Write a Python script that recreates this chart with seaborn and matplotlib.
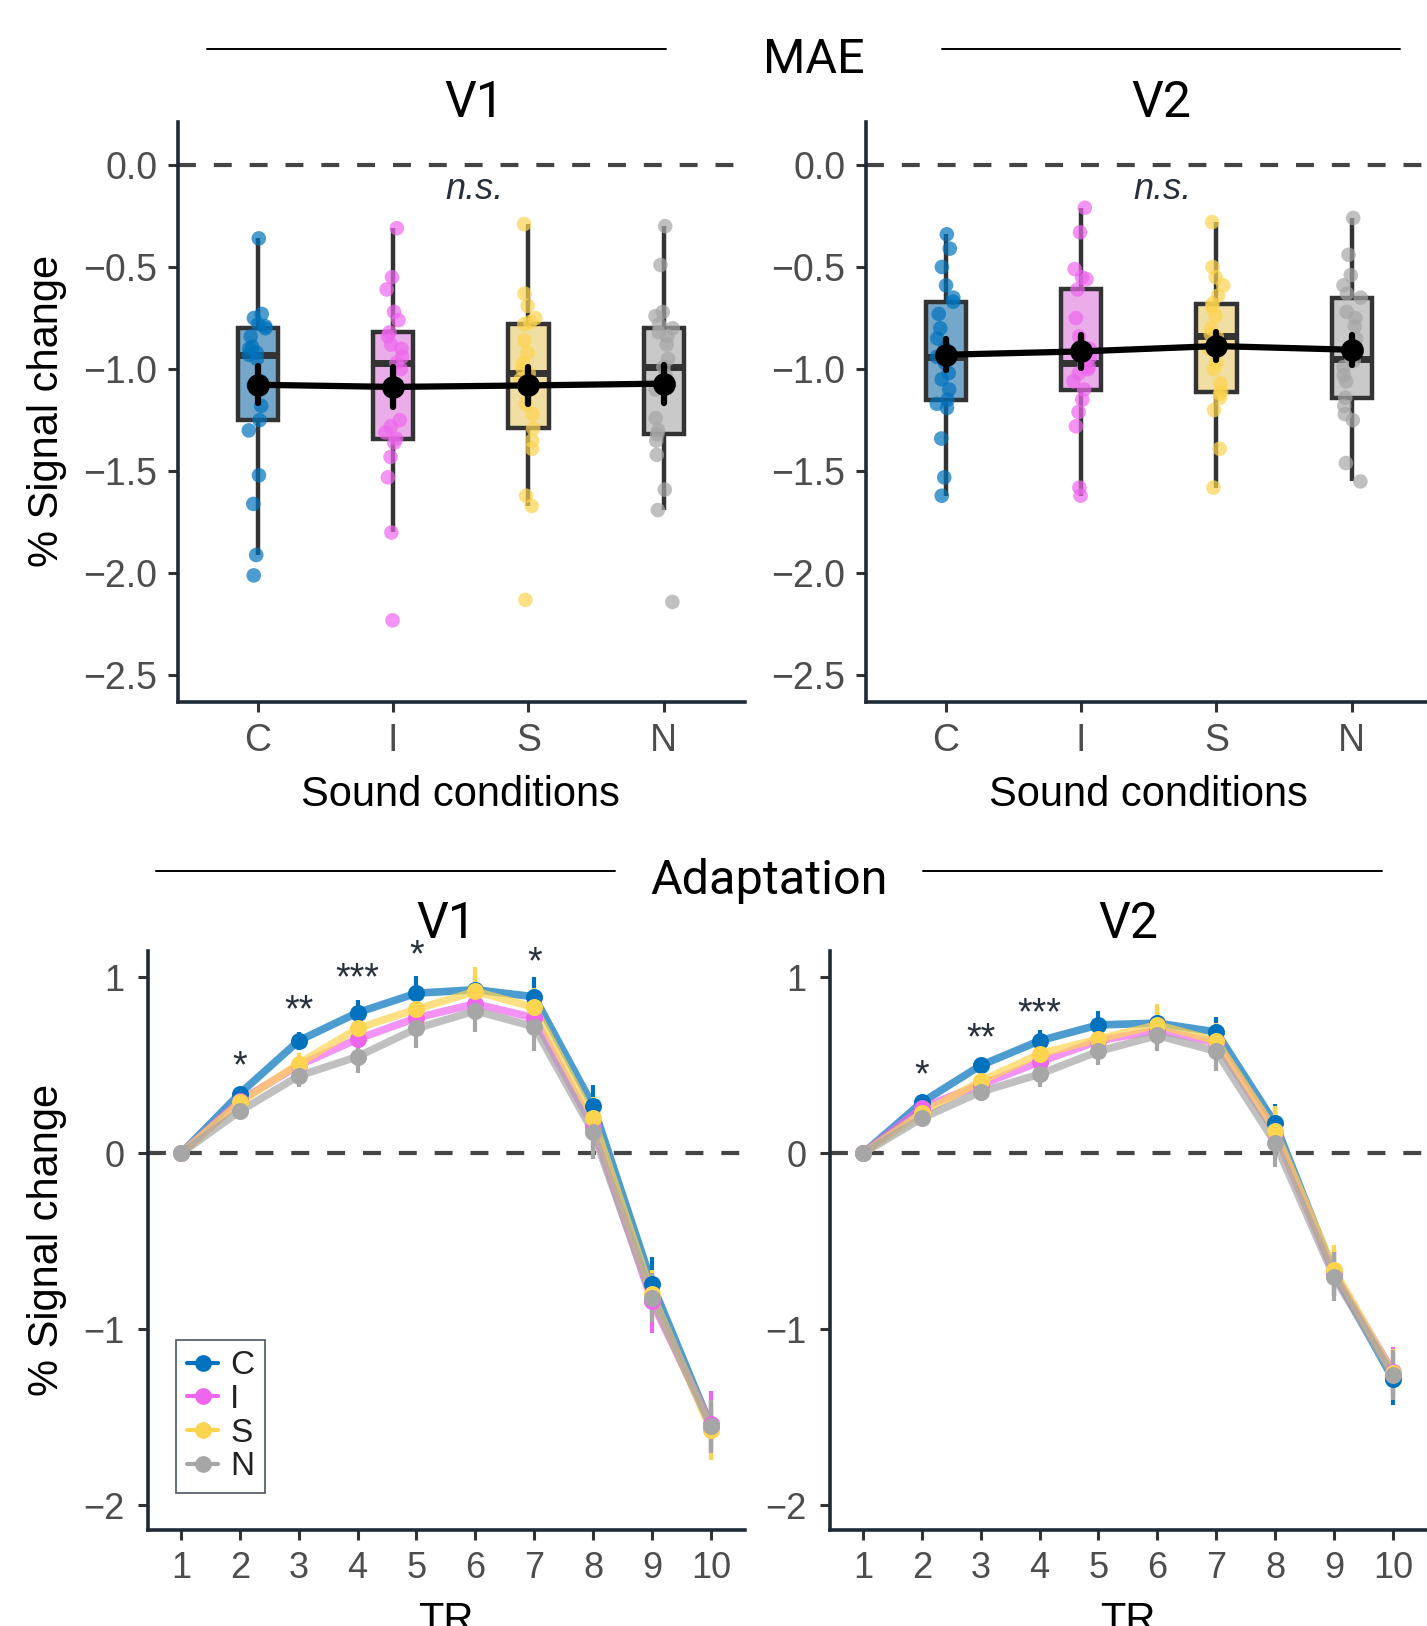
import numpy as np
import pandas as pd
import matplotlib
matplotlib.use("Agg")
import matplotlib.pyplot as plt
from matplotlib.lines import Line2D
from matplotlib.colors import to_rgba
import seaborn as sns

# ---------------- data ----------------
conditions = ["C", "I", "S", "N"]
colors = {"C": "#0072BD", "I": "#EE66EE", "S": "#FDD44F", "N": "#A6A6A6"}

# MAE: per-subject % signal change, V1
mae_v1_C = [-0.36, -0.73, -0.75, -0.78, -0.79, -0.80, -0.84, -0.89, -0.90, -0.92, -0.93,
            -0.95, -1.06, -1.08, -1.18, -1.25, -1.30, -1.52, -1.66, -1.91, -2.01]
mae_v1_I = [-0.31, -0.55, -0.61, -0.72, -0.76, -0.82, -0.84, -0.88, -0.90, -0.94, -0.97,
            -1.00, -1.25, -1.28, -1.31, -1.34, -1.36, -1.43, -1.53, -1.80, -2.23]
mae_v1_S = [-0.29, -0.63, -0.69, -0.75, -0.77, -0.78, -0.86, -0.92, -0.97, -1.00, -1.02,
            -1.05, -1.11, -1.17, -1.22, -1.29, -1.35, -1.39, -1.62, -1.67, -2.13]
mae_v1_N = [-0.30, -0.49, -0.72, -0.74, -0.78, -0.80, -0.82, -0.84, -0.88, -0.95, -0.99,
            -1.03, -1.10, -1.24, -1.30, -1.32, -1.35, -1.42, -1.59, -1.69, -2.14]
# MAE: V2
mae_v2_C = [-0.34, -0.41, -0.50, -0.59, -0.65, -0.67, -0.73, -0.80, -0.85, -0.90, -0.94,
            -0.97, -1.02, -1.05, -1.10, -1.15, -1.17, -1.19, -1.34, -1.53, -1.62]
mae_v2_I = [-0.21, -0.33, -0.51, -0.55, -0.56, -0.61, -0.75, -0.84, -0.90, -0.94, -0.97,
            -0.99, -1.00, -1.02, -1.06, -1.10, -1.15, -1.21, -1.28, -1.58, -1.62]
mae_v2_S = [-0.28, -0.50, -0.55, -0.59, -0.64, -0.68, -0.70, -0.74, -0.80, -0.83, -0.84,
            -0.90, -0.97, -1.00, -1.07, -1.11, -1.12, -1.14, -1.20, -1.39, -1.58]
mae_v2_N = [-0.26, -0.44, -0.54, -0.59, -0.63, -0.65, -0.72, -0.75, -0.79, -0.85, -0.95,
            -0.96, -0.99, -1.03, -1.06, -1.14, -1.18, -1.22, -1.25, -1.46, -1.55]

# Adaptation: time course (TR 1-10), group mean and SE
tr = [1, 2, 3, 4, 5, 6, 7, 8, 9, 10]
ad_v1_C = [0, 0.34, 0.64, 0.80, 0.91, 0.93, 0.89, 0.27, -0.74, -1.55]
ad_v1_I = [0, 0.30, 0.50, 0.65, 0.77, 0.85, 0.77, 0.15, -0.84, -1.54]
ad_v1_S = [0, 0.29, 0.51, 0.71, 0.82, 0.92, 0.83, 0.20, -0.80, -1.57]
ad_v1_N = [0, 0.24, 0.44, 0.55, 0.71, 0.81, 0.72, 0.12, -0.82, -1.55]
se_v1_C = [0, 0.03, 0.05, 0.07, 0.10, 0.08, 0.11, 0.12, 0.15, 0.14]
se_v1_I = [0, 0.03, 0.05, 0.07, 0.08, 0.09, 0.09, 0.12, 0.18, 0.19]
se_v1_S = [0, 0.03, 0.06, 0.07, 0.09, 0.14, 0.11, 0.12, 0.14, 0.17]
se_v1_N = [0, 0.03, 0.06, 0.095, 0.11, 0.12, 0.14, 0.15, 0.14, 0.15]

ad_v2_C = [0, 0.29, 0.50, 0.64, 0.73, 0.74, 0.69, 0.17, -0.68, -1.28]
ad_v2_I = [0, 0.26, 0.39, 0.52, 0.64, 0.70, 0.63, 0.12, -0.68, -1.24]
ad_v2_S = [0, 0.23, 0.41, 0.565, 0.65, 0.73, 0.64, 0.13, -0.66, -1.25]
ad_v2_N = [0, 0.20, 0.35, 0.45, 0.58, 0.67, 0.58, 0.06, -0.70, -1.26]
se_v2_C = [0, 0.03, 0.04, 0.06, 0.08, 0.08, 0.085, 0.11, 0.13, 0.15]
se_v2_I = [0, 0.03, 0.04, 0.06, 0.07, 0.09, 0.09, 0.12, 0.13, 0.14]
se_v2_S = [0, 0.03, 0.05, 0.06, 0.08, 0.12, 0.10, 0.14, 0.14, 0.14]
se_v2_N = [0, 0.03, 0.05, 0.075, 0.08, 0.09, 0.11, 0.14, 0.14, 0.14]

# significance markers (TR, label, y)
stars_v1_tr = [2, 3, 4, 5, 7]
stars_v1_lab = ["*", "**", "***", "*", "*"]
stars_v1_y = [0.49, 0.81, 0.99, 1.12, 1.08]
stars_v2_tr = [2, 3, 4]
stars_v2_lab = ["*", "**", "***"]
stars_v2_y = [0.44, 0.65, 0.79]

# ---------------- style ----------------
sns.set_theme(style="ticks")
plt.rcParams["font.family"] = ["Liberation Sans", "DejaVu Sans"]
SPINE = "#1e2b37"
TICKLAB = "#4d4d4d"
DARK = "#333333"
TXT = "#27313d"

W, H = 1427, 1626
fig = plt.figure(figsize=(W / 100, H / 100), dpi=100)


def px_axes(x0, y0, x1, y1):
    return fig.add_axes([x0 / W, 1 - y1 / H, (x1 - x0) / W, (y1 - y0) / H])


def style_axes(ax, lab_size, pad):
    sns.despine(ax=ax)
    for s in ["left", "bottom"]:
        ax.spines[s].set_linewidth(2.6)
        ax.spines[s].set_color(SPINE)
    ax.tick_params(axis="both", length=7, width=2.2, color=DARK,
                   labelcolor=TICKLAB, labelsize=lab_size, pad=pad)
    ax.set_xlabel("")
    ax.set_ylabel("")


def mae_panel(ax, vals):
    df = pd.DataFrame({
        "cond": np.repeat(conditions, [len(v) for v in vals]),
        "val": np.concatenate(vals),
    })
    sns.boxplot(data=df, x="cond", y="val", order=conditions, hue="cond",
                palette=colors, width=0.3, linewidth=3.2, linecolor=DARK,
                showfliers=False, showcaps=False, legend=False,
                medianprops=dict(linewidth=5, color=DARK),
                whiskerprops=dict(linewidth=3.2, color=DARK), ax=ax)
    for patch in ax.patches:
        patch.set_facecolor(to_rgba(patch.get_facecolor(), 0.6))
    np.random.seed(3)
    sns.stripplot(data=df, x="cond", y="val", order=conditions, hue="cond",
                  palette=colors, jitter=0.07, size=10.5, alpha=0.7,
                  linewidth=0, legend=False, ax=ax, zorder=3)
    sns.pointplot(data=df, x="cond", y="val", order=conditions, color="black",
                  errorbar="se", markers="o", markersize=13, linewidth=4.5,
                  err_kws={"linewidth": 4.5}, ax=ax, zorder=5)
    ax.axhline(0, color="#444444", lw=3, dashes=(4.3, 4.3), zorder=1)
    ax.text(1.6, -0.12, "n.s.", style="italic", fontsize=26, color=TXT,
            ha="center", va="center")
    ax.set_xlim(-0.59, 3.6)
    ax.set_ylim(-2.63, 0.21)
    ax.set_yticks([0, -0.5, -1.0, -1.5, -2.0, -2.5])
    ax.set_yticklabels(["0.0", "\u22120.5", "\u22121.0", "\u22121.5", "\u22122.0", "\u22122.5"])
    style_axes(ax, 27, 8)
    ax.tick_params(axis="x", labelsize=27, pad=8)


def adapt_panel(ax, means, ses, st_tr, st_lab, st_y, legend=False):
    for c, m, s in zip(conditions, means, ses):
        d = pd.DataFrame({"TR": tr, "mean": m})
        sns.lineplot(data=d, x="TR", y="mean", color=colors[c], lw=5.5,
                     alpha=0.7, ax=ax, zorder=2)
        ax.errorbar(tr, m, yerr=s, fmt="none", ecolor=colors[c],
                    elinewidth=3, capsize=0, zorder=3)
        sns.scatterplot(data=d, x="TR", y="mean", color=colors[c], s=150,
                        linewidth=0, ax=ax, zorder=4)
    ax.axhline(0, color="#444444", lw=3, dashes=(4.3, 4.3), zorder=1)
    for x, lab, y in zip(st_tr, st_lab, st_y):
        ax.text(x, y, lab, fontsize=27, color=TXT, ha="center", va="center",
                clip_on=False)
    ax.set_xlim(0.44, 10.58)
    ax.set_ylim(-2.14, 1.15)
    ax.set_xticks(tr)
    ax.set_yticks([1, 0, -1, -2])
    ax.set_yticklabels(["1", "0", "\u22121", "\u22122"])
    style_axes(ax, 26, 10)
    ax.tick_params(axis="x", pad=8)
    if legend:
        handles = [Line2D([0], [0], color=colors[c], marker="o", lw=3,
                          markersize=11) for c in conditions]
        leg = ax.legend(handles, conditions, loc="lower left",
                        bbox_to_anchor=(0.047, 0.064), borderaxespad=0,
                        frameon=True, fancybox=False, fontsize=24,
                        handlelength=0.95, handletextpad=0.35,
                        labelspacing=0.08, borderpad=0.32)
        leg.get_frame().set_edgecolor(SPINE)
        leg.get_frame().set_linewidth(1.2)
        for t in leg.get_texts():
            t.set_color("#222222")


# ---------------- panels ----------------
ax1 = px_axes(178, 122, 745, 702)
mae_panel(ax1, [mae_v1_C, mae_v1_I, mae_v1_S, mae_v1_N])
ax2 = px_axes(866, 122, 1433, 702)
mae_panel(ax2, [mae_v2_C, mae_v2_I, mae_v2_S, mae_v2_N])

ax3 = px_axes(148, 951, 745, 1530)
adapt_panel(ax3, [ad_v1_C, ad_v1_I, ad_v1_S, ad_v1_N],
            [se_v1_C, se_v1_I, se_v1_S, se_v1_N],
            stars_v1_tr, stars_v1_lab, stars_v1_y, legend=True)
ax4 = px_axes(830, 951, 1427, 1530)
adapt_panel(ax4, [ad_v2_C, ad_v2_I, ad_v2_S, ad_v2_N],
            [se_v2_C, se_v2_I, se_v2_S, se_v2_N],
            stars_v2_tr, stars_v2_lab, stars_v2_y)

# ---------------- labels / headers ----------------
TITLE_FONT = ["Roboto", "DejaVu Sans"]
fig.text(814 / W, 1 - 72.6 / H, "MAE", fontsize=35, family=TITLE_FONT,
         ha="center", va="baseline", color="black")
fig.text(769.5 / W, 1 - 894 / H, "Adaptation", fontsize=35, family=TITLE_FONT,
         ha="center", va="baseline", color="black")
fig.text(474 / W, 1 - 117 / H, "V1", fontsize=36, family=TITLE_FONT,
         ha="center", va="baseline", color="black")
fig.text(1161.5 / W, 1 - 117 / H, "V2", fontsize=36, family=TITLE_FONT,
         ha="center", va="baseline", color="black")
fig.text(446 / W, 1 - 937.5 / H, "V1", fontsize=36, family=TITLE_FONT,
         ha="center", va="baseline", color="black")
fig.text(1128 / W, 1 - 937.5 / H, "V2", fontsize=36, family=TITLE_FONT,
         ha="center", va="baseline", color="black")

for (x0, x1, y) in [(207, 666, 48.7), (942, 1400, 48.7),
                    (155.5, 615, 871), (923, 1382, 871)]:
    fig.add_artist(Line2D([x0 / W, x1 / W], [1 - y / H, 1 - y / H],
                          color="black", lw=1.4))

fig.text(460 / W, 1 - 805.7 / H, "Sound conditions", fontsize=30,
         ha="center", va="baseline", color="black")
fig.text(1148 / W, 1 - 805.7 / H, "Sound conditions", fontsize=30,
         ha="center", va="baseline", color="black")
fig.text(446 / W, 1 - 1632 / H, "TR", fontsize=30, ha="center",
         va="baseline", color="black")
fig.text(1128 / W, 1 - 1632 / H, "TR", fontsize=30, ha="center",
         va="baseline", color="black")
fig.text(47 / W, 1 - 411 / H, "% Signal change", fontsize=30, rotation=90,
         ha="center", va="center", color="black")
fig.text(47 / W, 1 - 1240 / H, "% Signal change", fontsize=30, rotation=90,
         ha="center", va="center", color="black")

fig.savefig("out.png", dpi=100)
